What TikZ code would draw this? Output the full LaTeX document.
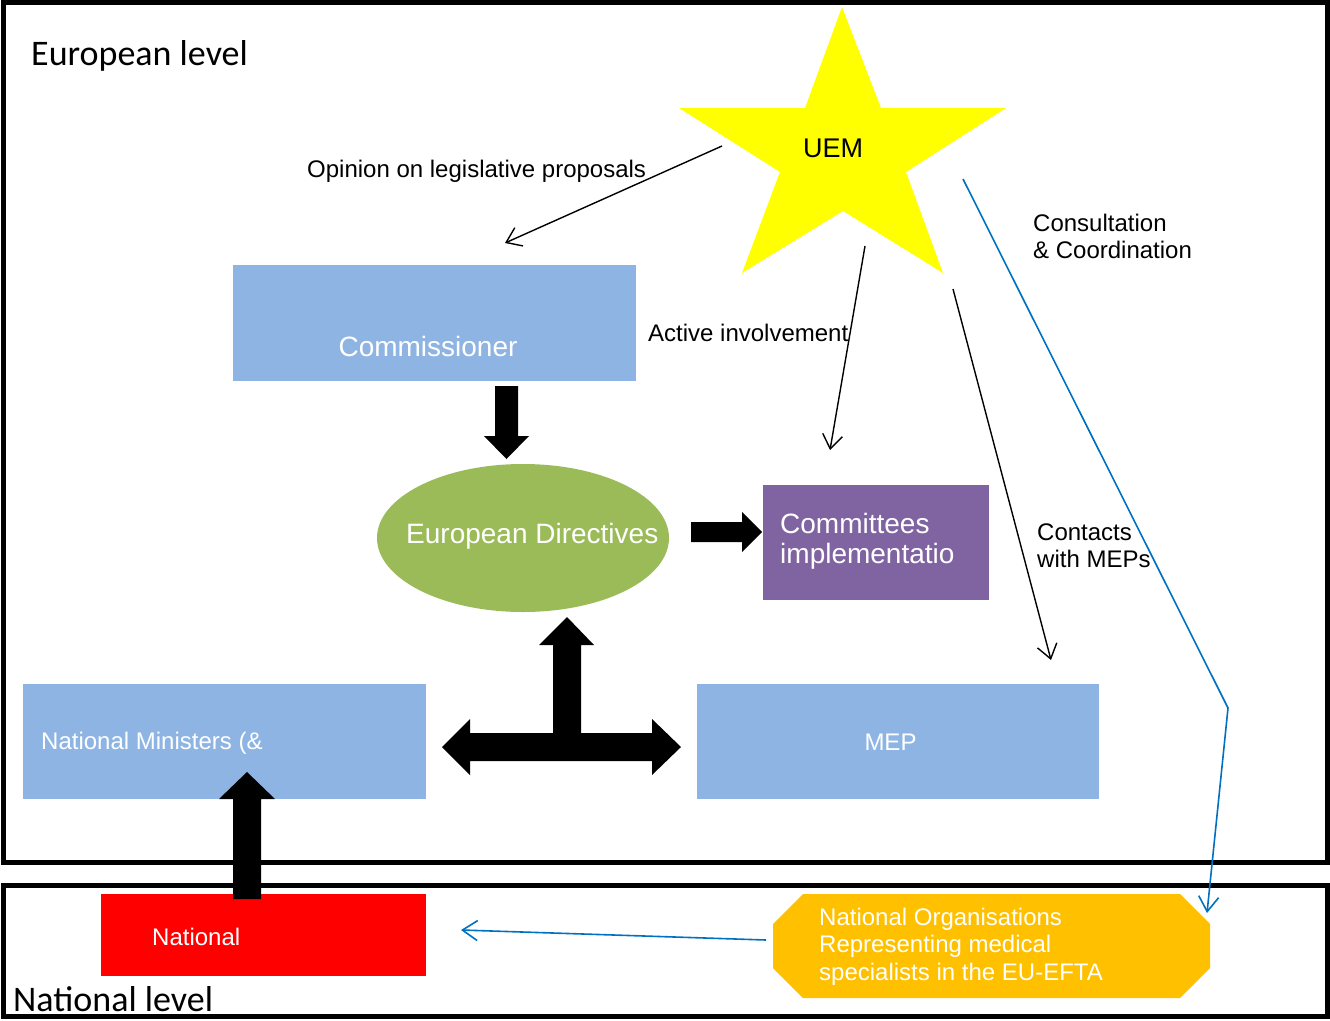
\documentclass[tikz,border=0pt]{standalone}
\usepackage{fontspec}
\setmainfont{Liberation Sans}
\newfontfamily\levelfont{Carlito}
\usetikzlibrary{arrows.meta,shapes.geometric}
\definecolor{boxblue}{HTML}{8EB4E3}
\definecolor{dirgreen}{HTML}{9BBB59}
\definecolor{compurple}{HTML}{8064A2}
\definecolor{natred}{HTML}{FF0000}
\definecolor{orggold}{HTML}{FFC000}
\definecolor{staryellow}{HTML}{FFFF00}
\definecolor{linkblue}{HTML}{0070C0}
\begin{document}
\begin{tikzpicture}[x=1pt,y=-1pt,
  frame/.style={draw=black,line width=5pt},
  panel/.style={rectangle,draw=none,inner sep=0pt},
  boxtext/.style={text=white,inner sep=0pt,font=\fontsize{24}{27.5}\selectfont,align=left},
  bigtext/.style={text=white,inner sep=0pt,font=\fontsize{28}{30}\selectfont,align=left},
  note/.style={inner sep=0pt,font=\fontsize{24}{27}\selectfont,align=left},
  leveltext/.style={inner sep=0pt,font=\levelfont\fontsize{36}{40}\selectfont},
  thinarrow/.style={draw=black,line width=1.4pt,-{Straight Barb[length=14pt,width=20pt]}},
  bluearrow/.style={draw=linkblue,line width=1.6pt,-{Straight Barb[length=15pt,width=20pt]}},
  blockarrow/.style={fill=black,draw=none}]
\useasboundingbox (0,0) rectangle (1330,1020);

% level frames
\draw[frame] (3.5,2.5) rectangle (1327.5,862.5);
\draw[frame] (3.5,885.5) rectangle (1327.5,1016.5);
\node[leveltext,anchor=base west] (eulevel) at (31,65) {European level};
\node[leveltext,anchor=base west] (natlevel) at (13,1011) {National level};

% institutions
\node[panel,fill=boxblue,minimum width=403pt,minimum height=116pt] (comm) at (434.5,323) {};
\node[bigtext,anchor=base] (commtext) at (428,356) {Commissioner};

\node[ellipse,draw=none,fill=dirgreen,inner sep=0pt,minimum width=292pt,minimum height=148pt] (dir) at (523,538) {};
\node[bigtext,anchor=base west] (dirtext) at (406,543) {European Directives};

\node[panel,fill=compurple,minimum width=226pt,minimum height=115pt] (cte) at (876,542.5) {};
\node[bigtext,anchor=base west] (ctetext) at (780,563) {Committees\\implementatio};

\node[panel,fill=boxblue,minimum width=403pt,minimum height=115pt] (min) at (224.5,741.5) {};
\node[boxtext,anchor=base west] (mintext) at (41,749) {National Ministers (\&};

\node[panel,fill=boxblue,minimum width=402pt,minimum height=115pt] (mep) at (898,741.5) {};
\node[boxtext,anchor=base] (meptext) at (890.5,750) {MEP};

\node[panel,fill=natred,minimum width=325pt,minimum height=82pt] (nat) at (263.5,935) {};
\node[boxtext,anchor=base west] (nattext) at (152,945) {National};

% national organisations (cut-corner box)
\fill[orggold] (803,894) -- (1180,894) -- (1210,924) -- (1210,968) -- (1180,998)
  -- (803,998) -- (773,968) -- (773,924) -- cycle;
\node[boxtext,anchor=base west] (orgtext) at (819,980)
  {National Organisations\\Representing medical\\specialists in the EU-EFTA};

% UEM star
\fill[staryellow] (842,7) -- (881,108) -- (1006,108) -- (906,172) -- (943,273)
  -- (843,211) -- (742,273) -- (780,172) -- (679,108) -- (805,108) -- cycle;
\node[inner sep=0pt,font=\fontsize{27}{30}\selectfont,anchor=base] (uem) at (833,157) {UEM};

% block arrows
\fill[blockarrow] (495,386) -- (518,386) -- (518,436) -- (529,436) -- (506.5,459)
  -- (484,436) -- (495,436) -- cycle;
\fill[blockarrow] (691,522) -- (742,522) -- (742,512) -- (762,532) -- (742,552)
  -- (742,542) -- (691,542) -- cycle;
\fill[blockarrow] (567,617) -- (594,645) -- (581,645) -- (581,733) -- (652,733)
  -- (652,719) -- (681,747) -- (652,775) -- (652,761) -- (470,761) -- (470,775)
  -- (442,747) -- (470,719) -- (470,733) -- (553,733) -- (553,645) -- (539,645) -- cycle;
\fill[blockarrow] (233,899) -- (233,799) -- (219,799) -- (247,772) -- (275,799)
  -- (261,799) -- (261,899) -- cycle;

% thin connectors
\coordinate (opinA) at (722,146);
\coordinate (opinB) at (505,243);
\coordinate (actA) at (865,246);
\coordinate (actB) at (830,450);
\coordinate (mepA) at (953,289);
\coordinate (mepB) at (1051,660);
\coordinate (conA) at (963,179);
\coordinate (conK) at (1228,708);
\coordinate (conB) at (1207,913);
\coordinate (natA) at (766,940);
\coordinate (natB) at (461,930);
\draw[thinarrow] (opinA) -- (opinB);
\draw[thinarrow] (actA) -- (actB);
\draw[thinarrow] (mepA) -- (mepB);
\draw[bluearrow] (conA) -- (conK) -- (conB);
\draw[bluearrow] (natA) -- (natB);

% connector labels
\node[note,anchor=base west] (opinlbl) at (307,177) {Opinion on legislative proposals};
\node[note,anchor=base west] (actlbl) at (648,341) {Active involvement};
\node[note,anchor=base west] (conlbl) at (1033,258) {Consultation\\\& Coordination};
\node[note,anchor=base west] (meplbl) at (1037,567) {Contacts\\with MEPs};
\end{tikzpicture}
\end{document}
